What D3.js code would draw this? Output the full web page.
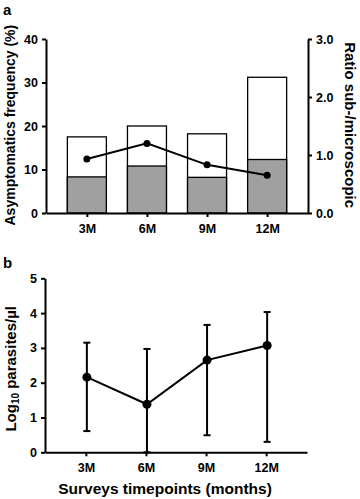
<!DOCTYPE html>
<html>
<head>
<meta charset="utf-8">
<script src="https://cdn.jsdelivr.net/npm/d3@7"></script>
<style>
  body { margin: 0; background: #fff; }
  svg { display: block; font-family: "Liberation Sans", Arial, sans-serif; font-weight: bold; }
  .axis path, .axis line { stroke: #000; stroke-width: 2; }
  .axis text { font-size: 12.5px; font-weight: bold; fill: #000; }
</style>
</head>
<body>
<svg id="chart" width="360" height="499"></svg>
<script>
// timepoints
var timepoints = ["3M", "6M", "9M", "12M"];

// panel a : asymptomatics frequency (%) total and microscopic, ratio sub/micro
var asymTotal = [17.5, 20.0, 18.2, 31.2];
var asymMicro = [8.3, 10.8, 8.2, 12.3];
var ratioSubMicro = [0.93, 1.2, 0.83, 0.65];

// panel b : log10 parasites/µl, mean with range
var parasMean = [2.16, 1.38, 2.65, 3.07];
var parasLow = [0.61, 0.0, 0.49, 0.30];
var parasHigh = [3.15, 2.97, 3.66, 4.03];

var yTicksA = [0, 10, 20, 30, 40];
var y2TicksA = [0, 1, 2, 3];
var yTicksB = [0, 1, 2, 3, 4, 5];

var svg = d3.select("#chart");

var left = 46, right = 308;

var x = d3.scalePoint()
    .domain(timepoints)
    .range([left, right])
    .padding(0.68);

// ---------- panel a ----------
var yA = d3.scaleLinear().domain([0, 40]).range([213, 39]);
var y2A = d3.scaleLinear().domain([0, 3]).range([213, 39]);
var barW = 39;

var ga = svg.append("g");

ga.selectAll("rect.tot")
  .data(asymTotal)
  .join("rect")
    .attr("class", "tot")
    .attr("x", (d, i) => x(timepoints[i]) - barW / 2)
    .attr("y", d => yA(d))
    .attr("width", barW)
    .attr("height", d => yA(0) - yA(d))
    .attr("fill", "#fff")
    .attr("stroke", "#000")
    .attr("stroke-width", 1.3);

ga.selectAll("rect.mic")
  .data(asymMicro)
  .join("rect")
    .attr("class", "mic")
    .attr("x", (d, i) => x(timepoints[i]) - barW / 2)
    .attr("y", d => yA(d))
    .attr("width", barW)
    .attr("height", d => yA(0) - yA(d))
    .attr("fill", "#a0a0a0")
    .attr("stroke", "#000")
    .attr("stroke-width", 1.3);

var lineA = d3.line()
    .x((d, i) => x(timepoints[i]))
    .y(d => y2A(d));

ga.append("path")
  .datum(ratioSubMicro)
  .attr("d", lineA)
  .attr("fill", "none")
  .attr("stroke", "#000")
  .attr("stroke-width", 2);

ga.selectAll("circle")
  .data(ratioSubMicro)
  .join("circle")
    .attr("cx", (d, i) => x(timepoints[i]))
    .attr("cy", d => y2A(d))
    .attr("r", 3.5)
    .attr("fill", "#000");

ga.append("g")
  .attr("class", "axis")
  .attr("transform", "translate(" + left + ",0)")
  .call(d3.axisLeft(yA).tickValues(yTicksA).tickSize(4).tickPadding(4).tickSizeOuter(0));

ga.append("g")
  .attr("class", "axis")
  .attr("transform", "translate(" + right + ",0)")
  .call(d3.axisRight(y2A).tickValues(y2TicksA).tickFormat(d3.format(".1f")).tickSize(4).tickPadding(4).tickSizeOuter(0));

ga.append("g")
  .attr("class", "axis")
  .attr("transform", "translate(0," + yA(0) + ")")
  .call(d3.axisBottom(x).tickSize(4).tickPadding(7).tickSizeOuter(0));

ga.append("text")
  .attr("transform", "translate(15," + yA(20.2) + ") rotate(-90)")
  .attr("text-anchor", "middle")
  .style("font-size", "14px")
  .text("Asymptomatics frequency (%)");

ga.append("text")
  .attr("transform", "translate(345," + yA(20.2) + ") rotate(90)")
  .attr("text-anchor", "middle")
  .style("font-size", "15px")
  .text("Ratio sub-/microscopic");

svg.append("text")
  .attr("x", 3).attr("y", 15)
  .style("font-size", "15px")
  .text("a");

// ---------- panel b ----------
var yB = d3.scaleLinear().domain([0, 5]).range([452.3, 278.3]);
var gb = svg.append("g");

gb.append("g")
  .attr("class", "axis")
  .attr("transform", "translate(" + (left - 1) + ",0)")
  .call(d3.axisLeft(yB).tickValues(yTicksB).tickFormat(d3.format("d")).tickSize(4).tickPadding(4).tickSizeOuter(0));

gb.append("g")
  .attr("class", "axis")
  .attr("transform", "translate(0," + yB(0) + ")")
  .call(d3.axisBottom(x.copy().range([left - 1, right - 1])).tickSize(4).tickPadding(7).tickSizeOuter(0));

// error bars
var capW = 7;
var eb = gb.selectAll("g.err")
  .data(timepoints)
  .join("g")
    .attr("class", "err");
eb.append("line")
  .attr("x1", d => x(d)).attr("x2", d => x(d))
  .attr("y1", (d, i) => yB(parasLow[i])).attr("y2", (d, i) => yB(parasHigh[i]))
  .attr("stroke", "#000").attr("stroke-width", 2);
eb.append("line")
  .attr("x1", d => x(d) - capW / 2).attr("x2", d => x(d) + capW / 2)
  .attr("y1", (d, i) => yB(parasHigh[i])).attr("y2", (d, i) => yB(parasHigh[i]))
  .attr("stroke", "#000").attr("stroke-width", 2);
eb.append("line")
  .attr("x1", d => x(d) - capW / 2).attr("x2", d => x(d) + capW / 2)
  .attr("y1", (d, i) => yB(parasLow[i])).attr("y2", (d, i) => yB(parasLow[i]))
  .attr("stroke", "#000").attr("stroke-width", 2);

var lineB = d3.line()
    .x((d, i) => x(timepoints[i]))
    .y(d => yB(d));

gb.append("path")
  .datum(parasMean)
  .attr("d", lineB)
  .attr("fill", "none")
  .attr("stroke", "#000")
  .attr("stroke-width", 2);

gb.selectAll("circle")
  .data(parasMean)
  .join("circle")
    .attr("cx", (d, i) => x(timepoints[i]))
    .attr("cy", d => yB(d))
    .attr("r", 4.5)
    .attr("fill", "#000");

var yt = gb.append("text")
  .attr("transform", "translate(15.5," + yB(2.4) + ") rotate(-90)")
  .attr("text-anchor", "middle")
  .style("font-size", "15px");
yt.append("tspan").text("Log");
yt.append("tspan").attr("dy", 3).style("font-size", "10px").text("10");
yt.append("tspan").attr("dy", -3).text(" parasites/µl");

gb.append("text")
  .attr("x", 165).attr("y", 494)
  .attr("text-anchor", "middle")
  .style("font-size", "15.5px")
  .text("Surveys timepoints (months)");

svg.append("text")
  .attr("x", 3).attr("y", 268)
  .style("font-size", "15px")
  .text("b");
</script>
</body>
</html>
